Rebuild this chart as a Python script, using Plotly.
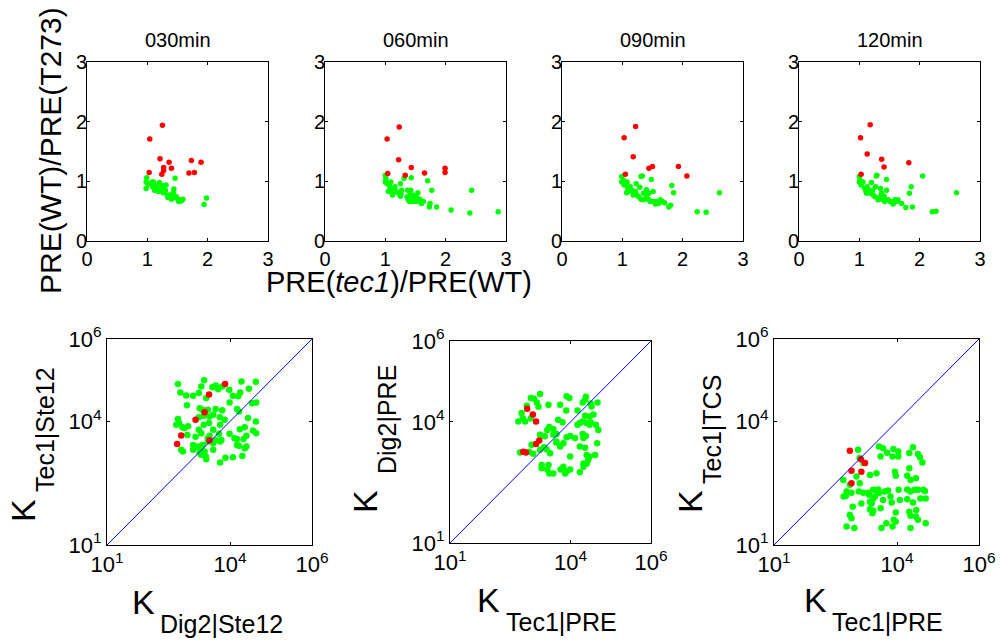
import plotly.graph_objects as go

W, H = 1001, 641

# ---------------- top row: PRE(tec1)/PRE(WT) vs PRE(WT)/PRE(T273) ----------------
titles_top = ["030min", "060min", "090min", "120min"]

t030_green_x = [0.99, 0.98, 1.01, 0.98, 1.05, 1.08, 1.09, 1.12, 1.16, 1.18, 1.20, 1.23, 1.22, 1.26, 1.30, 1.31, 1.33, 1.34,
                1.37, 1.43, 1.40, 1.45, 1.51, 1.48, 1.56, 1.54, 1.59, 1.46, 1.44, 1.98, 1.94, 1.10, 1.14, 1.26, 1.38, 1.52]
t030_green_y = [1.06, 0.99, 0.95, 0.88, 0.96, 0.99, 0.91, 0.85, 0.88, 0.83, 0.98, 0.94, 0.85, 0.81, 0.85, 0.94, 0.77, 0.73,
                0.77, 0.81, 0.70, 0.73, 0.69, 0.74, 0.67, 0.69, 0.70, 1.05, 0.87, 0.72, 0.61, 0.99, 0.92, 0.91, 0.74, 0.66]
t030_red_x = [1.04, 1.25, 1.03, 1.21, 1.36, 1.27, 1.27, 1.24, 1.40, 1.73, 1.89, 1.69, 1.78]
t030_red_y = [1.71, 1.94, 1.15, 1.38, 1.32, 1.23, 1.18, 1.12, 1.22, 1.35, 1.32, 1.14, 1.15]

t060_green_x = [1.00, 1.01, 1.00, 1.03, 1.07, 1.09, 1.08, 1.11, 1.13, 1.16, 1.18, 1.22, 1.25, 1.25, 1.26, 1.27, 1.31, 1.36,
                1.38, 1.37, 1.42, 1.43, 1.41, 1.44, 1.47, 1.49, 1.52, 1.54, 1.55, 1.58, 1.60, 1.63, 1.70, 1.73, 1.77, 1.85,
                1.74, 2.09, 2.40, 2.43, 2.87, 1.46, 1.40, 1.51, 1.05, 1.12]
t060_green_y = [0.99, 1.05, 1.10, 0.96, 0.94, 0.99, 0.88, 0.83, 0.85, 0.91, 0.83, 0.80, 0.96, 0.75, 0.79, 0.85, 1.05, 0.74,
                0.69, 0.85, 0.85, 1.06, 0.77, 0.69, 0.66, 0.71, 0.66, 0.81, 0.71, 0.69, 0.63, 0.66, 1.01, 0.57, 0.85, 0.57,
                0.63, 0.52, 0.47, 0.85, 0.49, 0.77, 0.66, 0.75, 0.83, 0.77]
t060_red_x = [1.03, 1.23, 1.04, 1.22, 1.33, 1.43, 1.65, 1.99, 1.99]
t060_red_y = [1.71, 1.91, 1.13, 1.36, 1.10, 1.23, 1.14, 1.22, 1.15]

t090_green_x = [0.99, 0.99, 1.02, 1.05, 1.08, 1.03, 1.09, 1.10, 1.13, 1.16, 1.19, 1.22, 1.23, 1.24, 1.27, 1.29, 1.31, 1.33,
                1.31, 1.35, 1.38, 1.40, 1.41, 1.44, 1.46, 1.48, 1.51, 1.52, 1.56, 1.60, 1.63, 1.66, 1.70, 1.77, 1.80, 1.82,
                1.85, 1.44, 2.24, 2.39, 2.61, 1.18, 1.35, 1.07, 1.55]
t090_green_y = [1.08, 0.99, 1.02, 0.96, 0.99, 0.94, 0.88, 0.83, 0.91, 0.85, 0.80, 0.83, 0.96, 0.77, 0.74, 0.90, 1.08, 1.09,
                0.70, 0.69, 0.71, 0.86, 0.77, 0.69, 0.66, 1.03, 0.83, 0.66, 0.66, 0.63, 0.69, 0.66, 0.64, 0.57, 0.60, 0.93,
                0.81, 0.80, 0.49, 0.48, 0.81, 0.77, 0.80, 0.81, 0.62]
t090_red_x = [1.03, 1.22, 1.05, 1.18, 1.44, 1.50, 1.93, 2.07]
t090_red_y = [1.73, 1.92, 1.12, 1.41, 1.22, 1.25, 1.25, 1.09]

t120_green_x = [1.00, 1.00, 1.01, 1.03, 1.06, 1.03, 1.09, 1.11, 1.13, 1.16, 1.18, 1.20, 1.23, 1.26, 1.27, 1.28, 1.29, 1.31,
                1.34, 1.35, 1.37, 1.39, 1.41, 1.45, 1.45, 1.48, 1.51, 1.55, 1.59, 1.62, 1.64, 1.70, 1.77, 1.83, 1.86, 1.88,
                2.05, 2.21, 2.27, 2.61, 1.12, 1.22, 1.35, 1.42, 1.56]
t120_green_y = [1.08, 0.99, 1.02, 0.96, 0.99, 0.94, 0.88, 0.83, 0.91, 0.85, 0.80, 0.98, 0.77, 0.74, 0.91, 1.09, 1.10, 0.69,
                0.71, 0.88, 0.80, 0.69, 0.75, 1.03, 0.85, 0.69, 0.66, 0.64, 0.69, 0.66, 0.69, 0.63, 0.56, 0.80, 0.91, 0.57,
                1.09, 0.49, 0.50, 0.81, 0.80, 0.85, 0.74, 0.66, 0.62]
t120_red_x = [1.02, 1.18, 1.03, 1.13, 1.37, 1.41, 1.82]
t120_red_y = [1.73, 1.95, 1.12, 1.46, 1.37, 1.24, 1.31]

top_ticks = [0, 1, 2, 3]

# ---------------- bottom row: dissociation constants (log10 values) ----------------
b1_green_logx = [2.73, 3.37, 3.65, 3.71, 3.81, 4.28, 4.63, 2.79, 2.93, 3.10, 3.24, 3.30, 3.42, 3.57, 3.98, 4.07, 4.20, 4.25,
                 4.46, 4.54, 4.64, 2.95, 3.26, 3.33, 3.46, 3.65, 3.81, 3.99, 4.17, 4.22, 3.24, 3.36, 3.50, 3.59, 3.75, 3.87,
                 4.44, 4.63, 2.73, 2.76, 2.69, 2.84, 2.89, 2.98, 3.24, 3.36, 3.49, 3.59, 3.76, 4.24, 4.36, 4.56, 4.64, 2.96,
                 3.16, 3.30, 3.46, 3.50, 3.73, 3.65, 3.76, 3.99, 4.11, 4.17, 4.33, 4.40, 3.10, 3.22, 3.26, 3.33, 3.46, 3.59,
                 3.79, 4.17, 4.22, 4.40, 4.36, 2.81, 2.85, 3.10, 3.26, 3.30, 3.41, 3.42, 3.38, 3.59, 3.76, 3.89, 4.07, 4.30]
b1_green_logy = [4.91, 5.00, 4.87, 4.78, 4.85, 4.97, 4.96, 4.70, 4.63, 4.62, 4.69, 4.85, 4.57, 4.83, 4.77, 4.62, 4.61, 4.70,
                 4.79, 4.44, 4.46, 4.39, 4.32, 4.28, 4.28, 4.30, 4.27, 4.46, 4.30, 4.24, 4.10, 4.14, 4.12, 4.16, 4.10, 4.04,
                 4.08, 4.00, 4.06, 3.96, 3.92, 3.86, 3.84, 3.88, 3.80, 3.92, 3.96, 3.80, 3.92, 3.81, 3.86, 3.78, 3.71, 3.67,
                 3.63, 3.71, 3.59, 3.65, 3.70, 3.54, 3.51, 3.70, 3.59, 3.57, 3.57, 3.65, 3.43, 3.39, 3.35, 3.43, 3.51, 3.47,
                 3.55, 3.43, 3.41, 3.39, 3.35, 3.31, 3.27, 3.31, 3.24, 3.19, 3.15, 3.08, 3.27, 3.31, 3.00, 3.12, 3.13, 3.16]
b1_red_logx = [3.88, 3.49, 3.38, 3.16, 2.81, 2.71, 3.50]
b1_red_logy = [4.91, 4.65, 4.22, 4.04, 3.66, 3.45, 3.54]

b2_green_logx = [3.01, 3.09, 3.24, 3.16, 3.20, 2.91, 2.78, 2.81, 2.70, 2.87, 3.01, 3.45, 3.74, 3.89, 3.97, 3.90, 4.17, 4.30,
                 4.38, 4.36, 4.50, 4.67, 4.52, 4.36, 4.47, 4.50, 4.57, 3.69, 3.80, 4.23, 4.17, 4.30, 4.40, 4.47, 4.63, 4.69,
                 3.47, 3.42, 3.57, 3.24, 3.36, 3.57, 3.65, 3.65, 3.64, 3.90, 3.99, 4.11, 4.30, 4.32, 4.38, 3.40, 3.49, 3.03,
                 2.97, 2.74, 3.07, 3.24, 3.34, 3.74, 3.82, 3.99, 4.23, 4.36, 4.40, 4.47, 4.61, 4.32, 4.44, 4.66, 3.28, 3.42,
                 3.47, 3.57, 3.28, 3.75, 3.86, 3.90, 3.99, 4.23, 4.32, 4.40, 3.82, 3.45]
b2_green_logy = [4.59, 4.57, 4.69, 4.48, 4.37, 4.40, 4.22, 4.09, 4.01, 4.01, 4.09, 4.42, 4.42, 4.28, 4.59, 4.63, 4.28, 4.48,
                 4.62, 4.55, 4.45, 4.48, 4.38, 4.15, 4.13, 3.99, 4.18, 4.05, 3.99, 3.97, 3.93, 4.01, 3.97, 3.93, 3.93, 3.80,
                 3.87, 3.80, 3.82, 3.68, 3.64, 3.68, 3.70, 3.51, 3.49, 3.62, 3.65, 3.60, 3.70, 3.60, 3.65, 3.32, 3.22, 3.43,
                 3.26, 3.24, 3.21, 3.31, 3.37, 3.39, 3.47, 3.14, 3.39, 3.36, 3.18, 3.14, 3.18, 2.97, 3.06, 3.47, 2.85, 2.82,
                 2.72, 2.72, 2.93, 2.82, 2.72, 2.77, 2.82, 2.75, 2.89, 2.96, 2.89, 2.93]
b2_red_logx = [2.92, 3.06, 3.14, 2.89, 3.14, 3.22, 2.82]
b2_red_logy = [4.32, 4.18, 4.01, 3.24, 3.45, 3.54, 3.26]

b3_green_logx = [3.05, 3.09, 3.56, 3.66, 3.60, 3.76, 3.91, 4.03, 4.03, 3.89, 4.30, 4.39, 4.51, 4.56, 4.62, 3.18, 3.34, 3.50,
                 3.95, 3.97, 4.25, 4.30, 4.33, 4.46, 2.69, 2.85, 3.09, 3.01, 2.77, 2.89, 3.07, 3.18, 3.30, 3.42, 3.52, 3.56,
                 3.78, 4.04, 4.25, 4.33, 4.43, 4.51, 4.64, 4.68, 4.57, 4.70, 2.70, 2.75, 2.92, 3.13, 3.34, 3.42, 3.46, 3.38,
                 3.34, 3.42, 3.40, 3.60, 3.66, 3.84, 3.87, 3.97, 4.07, 4.25, 4.39, 4.47, 2.85, 2.89, 2.77, 2.96, 3.62, 3.74,
                 3.92, 3.97, 3.89, 4.30, 4.33, 4.33, 4.46, 4.51, 4.70, 3.54, 3.32, 3.70]
b3_green_logy = [3.31, 3.11, 3.39, 3.35, 3.15, 3.24, 3.33, 3.27, 3.15, 3.15, 3.23, 3.37, 3.21, 3.13, 3.00, 2.99, 2.70, 2.74,
                 2.78, 2.68, 2.68, 2.86, 2.58, 2.62, 2.58, 2.46, 2.50, 2.66, 2.30, 2.27, 2.30, 2.27, 2.27, 2.34, 2.30, 2.26,
                 2.32, 2.34, 2.35, 2.30, 2.34, 2.34, 2.34, 2.31, 2.13, 2.13, 2.18, 2.19, 1.93, 2.01, 2.05, 2.13, 2.18, 2.01,
                 1.87, 1.83, 1.77, 1.89, 2.09, 2.18, 2.03, 1.79, 2.09, 2.11, 2.03, 1.85, 1.73, 1.65, 1.45, 1.41, 1.41, 1.53,
                 1.61, 1.57, 1.45, 1.81, 1.71, 1.41, 1.69, 1.61, 1.53, 2.35, 2.22, 2.30]
b3_red_logx = [2.85, 3.12, 3.22, 2.89, 3.13, 2.89]
b3_red_logy = [3.29, 3.08, 2.99, 2.80, 2.78, 2.50]

diag_line = [10, 1e6]
bottom_tickvals = [1e1, 1e4, 1e6]
bottom_ticktext = ["10<sup>1</sup>", "10<sup>4</sup>", "10<sup>6</sup>"]

# ---------------- figure ----------------
FONT = "Liberation Sans, Arial, Helvetica, sans-serif"
GREEN = "#00ff00"
RED = "#ff0000"

fig = go.Figure()


def xd(a, b):
    return [a / W, b / W]


def yd(top, bot):
    return [1 - bot / H, 1 - top / H]


top_x_dom = [(87, 268), (325, 506), (562, 743), (799, 980)]
top_y_dom = (62, 241)
bot_dom = [((107, 312), (339, 545)), ((450, 651), (341, 543)), ((774, 979), (339, 545))]

top_data = [
    (t030_green_x, t030_green_y, t030_red_x, t030_red_y),
    (t060_green_x, t060_green_y, t060_red_x, t060_red_y),
    (t090_green_x, t090_green_y, t090_red_x, t090_red_y),
    (t120_green_x, t120_green_y, t120_red_x, t120_red_y),
]

axis_common = dict(showline=True, linecolor="black", linewidth=1, mirror="ticks", ticks="inside",
                   tickcolor="black", showgrid=False, zeroline=False, fixedrange=True, automargin=False)

for i, (gx, gy, rx, ry) in enumerate(top_data):
    n = i + 1
    xa = "x" if n == 1 else f"x{n}"
    ya = "y" if n == 1 else f"y{n}"
    fig.add_trace(go.Scatter(x=gx, y=gy, mode="markers", xaxis=xa, yaxis=ya,
                             marker=dict(color=GREEN, size=5.5, line=dict(width=0)), showlegend=False))
    fig.add_trace(go.Scatter(x=rx, y=ry, mode="markers", xaxis=xa, yaxis=ya,
                             marker=dict(color=RED, size=5.5, line=dict(width=0)), showlegend=False))
    xkey = "xaxis" if n == 1 else f"xaxis{n}"
    ykey = "yaxis" if n == 1 else f"yaxis{n}"
    fig.update_layout(**{
        xkey: dict(axis_common, domain=xd(*top_x_dom[i]), anchor=ya, range=[0, 3],
                   tickvals=top_ticks, ticklen=3, tickfont=dict(family=FONT, size=20, color="black")),
        ykey: dict(axis_common, domain=yd(*top_y_dom), anchor=xa, range=[0, 3],
                   tickvals=top_ticks, ticklen=3, ticklabelstandoff=-5,
                   tickfont=dict(family=FONT, size=20, color="black")),
    })

bot_data = [
    (b1_green_logx, b1_green_logy, b1_red_logx, b1_red_logy),
    (b2_green_logx, b2_green_logy, b2_red_logx, b2_red_logy),
    (b3_green_logx, b3_green_logy, b3_red_logx, b3_red_logy),
]

for j, (gx, gy, rx, ry) in enumerate(bot_data):
    n = j + 5
    xa, ya = f"x{n}", f"y{n}"
    fig.add_trace(go.Scatter(x=[10 ** v for v in gx], y=[10 ** v for v in gy], mode="markers", xaxis=xa, yaxis=ya,
                             marker=dict(color=GREEN, size=6.5, line=dict(width=0)), showlegend=False))
    fig.add_trace(go.Scatter(x=[10 ** v for v in rx], y=[10 ** v for v in ry], mode="markers", xaxis=xa, yaxis=ya,
                             marker=dict(color=RED, size=6.5, line=dict(width=0)), showlegend=False))
    fig.add_trace(go.Scatter(x=diag_line, y=diag_line, mode="lines", xaxis=xa, yaxis=ya,
                             line=dict(color="#0000ff", width=1), showlegend=False))
    (x0, x1), (y0, y1) = bot_dom[j]
    fig.update_layout(**{
        f"xaxis{n}": dict(axis_common, type="log", domain=xd(x0, x1), anchor=ya, range=[1, 6],
                          tickvals=bottom_tickvals, ticktext=bottom_ticktext, ticklen=3,
                          tickfont=dict(family=FONT, size=22, color="black")),
        f"yaxis{n}": dict(axis_common, type="log", domain=yd(y0, y1), anchor=xa, range=[1, 6],
                          tickvals=bottom_tickvals, ticktext=bottom_ticktext, ticklen=3,
                          tickfont=dict(family=FONT, size=22, color="black")),
    })

annotations = []


def ann(text, x, y, size, angle=0):
    annotations.append(dict(text=text, x=x / W, y=1 - y / H, xref="paper", yref="paper",
                            showarrow=False, xanchor="center", yanchor="middle", textangle=angle,
                            font=dict(family=FONT, size=size, color="black")))


# titles of the top panels
for i, t in enumerate(titles_top):
    a, b = top_x_dom[i]
    ann(t, (a + b) / 2, 40, 20)

# top axis labels
ann("PRE(WT)/PRE(T273)", 50, 151, 30, angle=-90)
ann("PRE(<i>tec1</i>)/PRE(WT)", 399, 282, 29)

# bottom axis labels: large K with a lowered subscript
K_SIZE = 34
SUB_SIZE = 25
# panel 5
ann("K", 143, 602, K_SIZE)
ann("Dig2|Ste12", 221, 624, SUB_SIZE)
ann("K", 23, 511, K_SIZE, angle=-90)
ann("Tec1|Ste12", 45, 430, SUB_SIZE, angle=-90)
# panel 6
ann("K", 488, 600, K_SIZE)
ann("Tec1|PRE", 561, 622, SUB_SIZE)
ann("K", 365, 502, K_SIZE, angle=-90)
ann("Dig2|PRE", 387, 420, SUB_SIZE, angle=-90)
# panel 7
ann("K", 815, 600, K_SIZE)
ann("Tec1|PRE", 887, 622, SUB_SIZE)
ann("K", 690, 502, K_SIZE, angle=-90)
ann("Tec1|TCS", 712, 430, SUB_SIZE, angle=-90)

fig.update_layout(width=W, height=H, margin=dict(l=0, r=0, t=0, b=0, pad=0, autoexpand=False),
                  paper_bgcolor="white", plot_bgcolor="white", annotations=annotations,
                  font=dict(family=FONT, color="black"))

fig.write_html("out.html", config={"displayModeBar": False},
               post_script="document.body.style.margin='0';document.body.style.overflow='hidden';")
